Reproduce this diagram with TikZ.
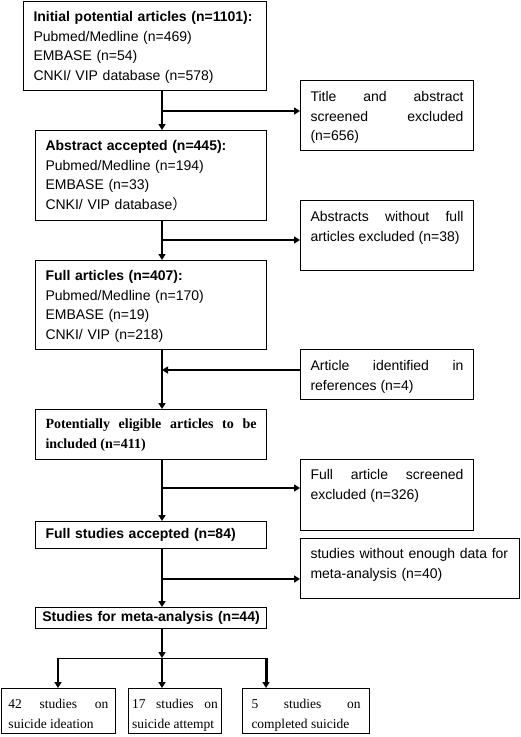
\documentclass[tikz,border=0pt]{standalone}
\usepackage{fontspec}
\setmainfont{Liberation Sans}
\newfontfamily\timesfont{Liberation Serif}
\newfontfamily\cjkfont{Noto Sans CJK SC}
\usepackage{tikz}
\usetikzlibrary{arrows.meta}
\hyphenpenalty=10000
\exhyphenpenalty=10000
\tolerance=10000
\hbadness=10000

\tikzset{
  box/.style={draw, line width=1pt, anchor=north west, inner ysep=0pt, inner xsep=10pt,
    font=\fontsize{14}{19.7}\selectfont, align=left},
  sidebox/.style={box, align=justify, text width=153pt},
  endbox/.style={box, align=justify, inner xsep=7pt,
    font=\timesfont\fontsize{13.5}{20}\selectfont},
  flow/.style={line width=2pt, -{Triangle[length=6pt,width=7pt]}},
}

\begin{document}
\begin{tikzpicture}[x=1pt,y=-1pt]
  \useasboundingbox (0,0) rectangle (520,737);

  % main column
  \node[box, text width=223pt, text height=20pt, text depth=69pt] (init) at (23,1)
    {\textbf{Initial potential articles (n=1101):}\\Pubmed/Medline (n=469)\\EMBASE (n=54)\\CNKI/ VIP database (n=578)};
  \node[box, text width=211pt, text height=20pt, text depth=70pt] (abs) at (35,130)
    {\textbf{Abstract accepted (n=445):}\\Pubmed/Medline (n=194)\\EMBASE (n=33)\\CNKI/ VIP database{\cjkfont ）}};
  \node[box, text width=211pt, text height=20pt, text depth=69pt] (full) at (35,260)
    {\textbf{Full articles (n=407):}\\Pubmed/Medline (n=170)\\EMBASE (n=19)\\CNKI/ VIP (n=218)};
  \node[box, align=justify, text width=211pt, text height=19pt, text depth=31pt,
    font=\timesfont\bfseries\fontsize{14}{20}\selectfont] (elig) at (35,409)
    {Potentially eligible articles to be included (n=411)};
  \node[box, text width=211pt, text height=17pt, text depth=10pt] (fstud) at (35,521)
    {\textbf{Full studies accepted (n=84)}};
  \node[box, align=center, inner xsep=1pt, text width=229pt, text height=14pt, text depth=7pt] (meta) at (35,607)
    {\textbf{Studies for meta-analysis (n=44)}};

  % side boxes
  \node[sidebox, text height=21pt, text depth=49pt] (excl1) at (300,80)
    {Title and abstract screened excluded (n=656)};
  \node[sidebox, text height=21pt, text depth=49pt] (excl2) at (300,200)
    {Abstracts without full articles excluded (n=38)};
  \node[sidebox, text height=21pt, text depth=29pt] (refs) at (300,349)
    {Article identified in references (n=4)};
  \node[sidebox, text height=20pt, text depth=51pt] (excl3) at (300,459)
    {Full article screened excluded (n=326)};
  \node[box, text width=199pt, text height=20pt, text depth=40pt] (excl4) at (300,538)
    {studies without enough data for meta-analysis (n=40)};

  % end boxes
  \node[endbox, text width=100pt, text height=20pt, text depth=25pt] (ideat) at (1,688)
    {42 studies on suicide ideation};
  \node[endbox, inner xsep=3.5pt, text width=86pt, text height=20pt, text depth=25pt] (attem) at (128,688)
    {17 studies on suicide attempt};
  \node[endbox, inner xsep=9pt, text width=109pt, text height=20pt, text depth=25pt] (compl) at (242,688)
    {5 studies on completed suicide};

  % branch points on the main line
  \coordinate (b1) at (162,111);
  \coordinate (b2) at (162,240);
  \coordinate (b3) at (162,370);
  \coordinate (b4) at (162,488);
  \coordinate (b5) at (162,579);
  \coordinate (sm) at (162,658);
  \coordinate (sl) at (58,658);
  \coordinate (sr) at (266,658);

  \draw[flow] (init.south -| b1) -- (abs.north -| b1);
  \draw[flow] (b1) -- (b1 -| excl1.west);
  \draw[flow] (abs.south -| b2) -- (full.north -| b2);
  \draw[flow] (b2) -- (b2 -| excl2.west);
  \draw[flow] (full.south -| b3) -- (elig.north -| b3);
  \draw[flow] (refs.west |- b3) -- (b3);
  \draw[flow] (elig.south -| b4) -- (fstud.north -| b4);
  \draw[flow] (b4) -- (b4 -| excl3.west);
  \draw[flow] (fstud.south -| b5) -- (meta.north -| b5);
  \draw[flow] (b5) -- (b5 -| excl4.west);
  \draw[flow] (meta.south -| sm) -- (sm);
  \draw[line width=1pt] (sl) -- (sr);
  \draw[flow] (sl) -- (sl |- ideat.north);
  \draw[flow] (sm) -- (sm |- attem.north);
  \draw[flow, line width=3pt] (sr) -- (sr |- compl.north);
\end{tikzpicture}
\end{document}
